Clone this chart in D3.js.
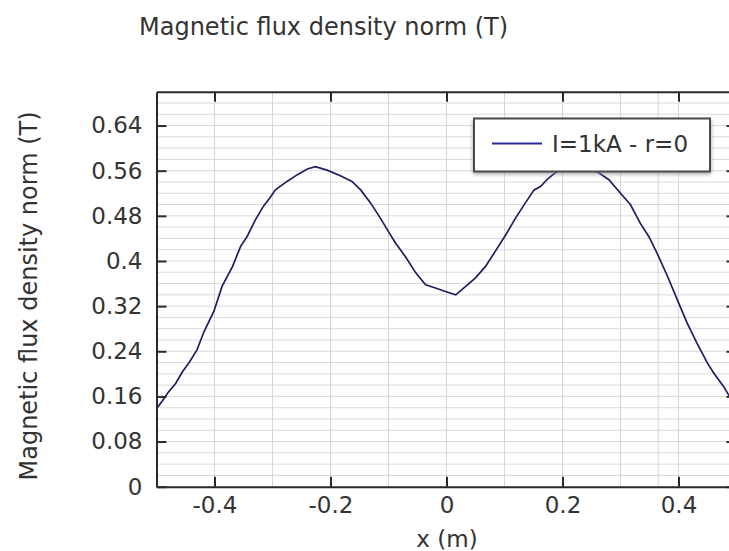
<!DOCTYPE html>
<html>
<head>
<meta charset="utf-8">
<script src="https://cdnjs.cloudflare.com/ajax/libs/d3/7.8.5/d3.min.js"></script>
<style>
  html, body { margin: 0; padding: 0; background: #fff; }
  svg { display: block; }
  text { font-family: "DejaVu Sans", Verdana, sans-serif; fill: #333; }
</style>
</head>
<body>
<svg id="chart" width="729" height="551"></svg>
<script>
// ---- data ----
const xValues = [-0.500,-0.490,-0.480,-0.467,-0.455,-0.443,-0.430,-0.418,-0.401,-0.387,-0.369,-0.355,-0.344,-0.330,-0.315,-0.305,-0.295,-0.275,-0.257,-0.240,-0.226,-0.206,-0.183,-0.163,-0.148,-0.131,-0.114,-0.100,-0.088,-0.071,-0.053,-0.036,-0.019,-0.002,0.016,0.033,0.050,0.067,0.084,0.102,0.119,0.136,0.151,0.162,0.176,0.191,0.210,0.230,0.250,0.263,0.280,0.300,0.317,0.334,0.349,0.363,0.381,0.398,0.415,0.432,0.450,0.461,0.478,0.488,0.500];
const bValues = [0.138,0.152,0.167,0.183,0.204,0.221,0.243,0.275,0.311,0.355,0.390,0.426,0.443,0.472,0.498,0.511,0.526,0.541,0.553,0.563,0.567,0.561,0.551,0.541,0.526,0.503,0.476,0.452,0.432,0.408,0.379,0.358,0.352,0.346,0.340,0.355,0.370,0.390,0.417,0.446,0.476,0.503,0.526,0.532,0.547,0.559,0.566,0.569,0.563,0.556,0.544,0.520,0.500,0.467,0.443,0.414,0.373,0.331,0.290,0.254,0.219,0.201,0.177,0.160,0.140];
const yTicks = [0, 0.08, 0.16, 0.24, 0.32, 0.4, 0.48, 0.56, 0.64];
const yTickLabels = ["0", "0.08", "0.16", "0.24", "0.32", "0.4", "0.48", "0.56", "0.64"];
const xTicks = [-0.4, -0.2, 0, 0.2, 0.4];
const xTickLabels = ["-0.4", "-0.2", "0", "0.2", "0.4"];
const yGrid = d3.range(1, 35).map(i => +(i * 0.02).toFixed(2));
const xGrid = [-0.4, -0.3, -0.2, -0.1, 0, 0.1, 0.2, 0.3, 0.365, 0.4];
const seriesName = "I=1kA - r=0";
const titleText = "Magnetic flux density norm (T)";
const yLabelText = "Magnetic flux density norm (T)";
const xLabelText = "x (m)";

// ---- layout ----
const L = 156.5, R = 736.5, T = 91.7, B = 486.7;
const x = d3.scaleLinear().domain([-0.5, 0.5]).range([L, R]);
const y = d3.scaleLinear().domain([0, 0.70]).range([B, T]);

const svg = d3.select("#chart");
const defs = svg.append("defs");
defs.append("clipPath").attr("id", "plotclip")
  .append("rect").attr("x", L).attr("y", T).attr("width", R - L).attr("height", B - T);
const f = defs.append("filter").attr("id", "shadow").attr("x", "-10%").attr("y", "-20%").attr("width", "130%").attr("height", "160%");
f.append("feGaussianBlur").attr("stdDeviation", 2);

// grid
const grid = svg.append("g").attr("clip-path", "url(#plotclip)");
grid.selectAll("line.hg").data(yGrid).enter().append("line")
  .attr("x1", L).attr("x2", R).attr("y1", d => y(d)).attr("y2", d => y(d))
  .attr("stroke", "#dadada").attr("stroke-width", 1);
grid.selectAll("line.vg").data(xGrid).enter().append("line")
  .attr("y1", T).attr("y2", B).attr("x1", d => x(d)).attr("x2", d => x(d))
  .attr("stroke", "#d6d6d6").attr("stroke-width", 1);

// curve
const pts = xValues.map((v, i) => [v, bValues[i]]);
svg.append("path").datum(pts)
  .attr("clip-path", "url(#plotclip)")
  .attr("fill", "none").attr("stroke", "#1e1e62").attr("stroke-width", 1.7)
  .attr("d", d3.line().x(d => x(d[0])).y(d => y(d[1])));

// axes (inward ticks)
const axisStyle = g => {
  g.select(".domain").attr("stroke", "#2a2a2a").attr("stroke-width", 2);
  g.selectAll(".tick line").attr("stroke", "#2a2a2a").attr("stroke-width", 2);
  g.selectAll(".tick text").style("font-size", "23px").attr("fill", "#383838");
};
svg.append("g").attr("transform", `translate(${L},0)`)
  .call(d3.axisLeft(y).tickValues(yTicks).tickFormat((d, i) => yTickLabels[i]).tickSize(-10).tickPadding(14).tickSizeOuter(0))
  .call(axisStyle);
svg.append("g").attr("transform", `translate(${R},0)`)
  .call(d3.axisRight(y).tickValues(yTicks).tickFormat("").tickSize(-10).tickSizeOuter(0))
  .call(axisStyle);
svg.append("g").attr("transform", `translate(0,${B})`)
  .call(d3.axisBottom(x).tickValues(xTicks).tickFormat((d, i) => xTickLabels[i]).tickSize(-10).tickPadding(10).tickSizeOuter(0))
  .call(axisStyle);
svg.append("g").attr("transform", `translate(0,${T})`)
  .call(d3.axisTop(x).tickValues(xTicks).tickFormat("").tickSize(-10).tickSizeOuter(0))
  .call(axisStyle);
svg.selectAll(".tick text").attr("font-family", null);

// legend
const lg = svg.append("g");
lg.append("rect").attr("x", 473).attr("y", 120).attr("width", 238).attr("height", 54)
  .attr("fill", "#888").attr("filter", "url(#shadow)").attr("opacity", 0.8);
lg.append("rect").attr("x", 474).attr("y", 118.5).attr("width", 236).attr("height", 53)
  .attr("fill", "#fff").attr("stroke", "#4a4a4a").attr("stroke-width", 2);
lg.append("line").attr("x1", 492).attr("x2", 542).attr("y1", 143.5).attr("y2", 143.5)
  .attr("stroke", "#2a2a9a").attr("stroke-width", 2);
lg.append("text").attr("x", 552).attr("y", 152).style("font-size", "23px").text(seriesName);

// title and labels
svg.append("text").attr("x", 139).attr("y", 35).style("font-size", "24px").text(titleText);
svg.append("text").attr("transform", "translate(37,296) rotate(-90)").attr("text-anchor", "middle")
  .style("font-size", "24px").text(yLabelText);
svg.append("text").attr("x", 447).attr("y", 547).attr("text-anchor", "middle")
  .style("font-size", "23px").text(xLabelText);
</script>
</body>
</html>
